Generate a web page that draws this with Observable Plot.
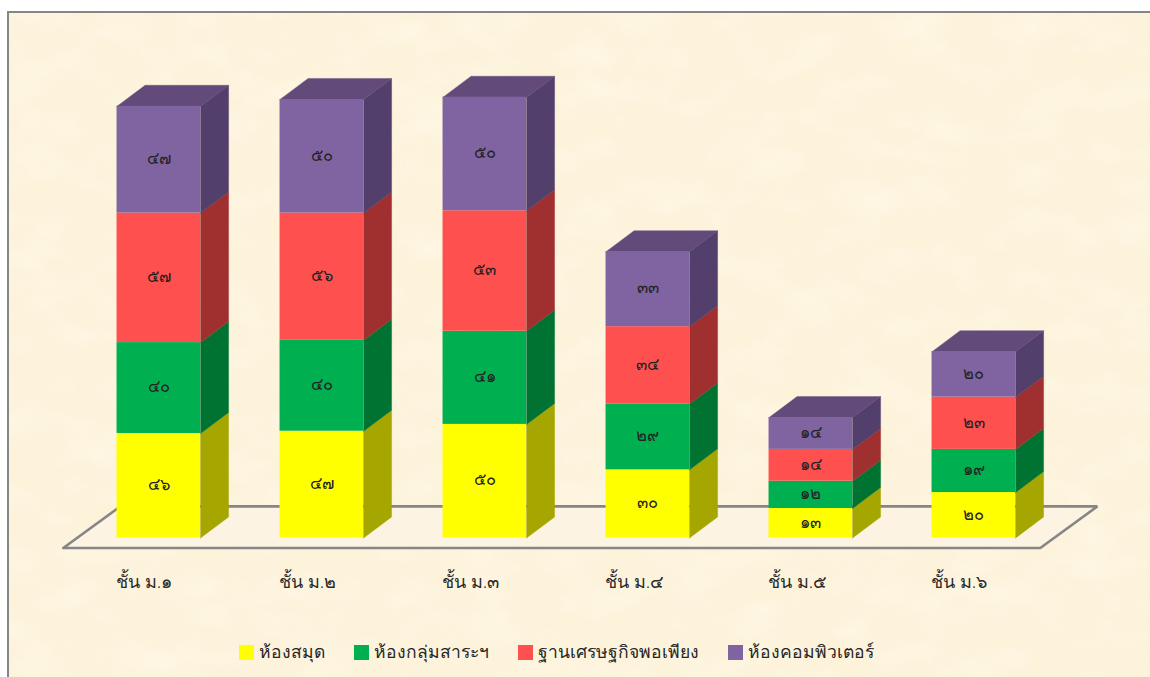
<!DOCTYPE html>
<html lang="th">
<head>
<meta charset="utf-8">
<script src="https://cdn.jsdelivr.net/npm/d3@7"></script>
<script src="https://cdn.jsdelivr.net/npm/@observablehq/plot@0.6"></script>
<style>
  html, body { margin: 0; padding: 0; width: 1150px; height: 677px; overflow: hidden; background: #fff; }
  body { position: relative; font-family: "Noto Sans", "DejaVu Sans", sans-serif; }
  #frame {
    position: absolute; left: 7px; top: 11px; width: 1160px; height: 690px; box-sizing: border-box;
    border: 2.5px solid #868686; background-color: #fdf2da;
    background-image: url("data:image/svg+xml;utf8,<svg xmlns='http://www.w3.org/2000/svg' width='1150' height='677'><filter id='t' x='0' y='0' width='100%' height='100%'><feTurbulence type='fractalNoise' baseFrequency='0.018 0.03' numOctaves='4' seed='7'/><feColorMatrix values='0 0 0 0 1  0 0 0 0 0.97  0 0 0 0 0.86  0.9 0 0 0 -0.32'/></filter><rect width='1150' height='677' filter='url(%23t)'/></svg>");
  }
  #chart { position: absolute; left: 0; top: 0; }
  #chart svg { background: transparent; display: block; }
  #legend { position: absolute; left: 239px; top: 640px; height: 24px; font-size: 17.5px; color: #262626; white-space: nowrap; }
  #legend span.sw { display: inline-block; width: 15px; height: 15px; margin-right: 5px; }
  #legend span.it { display: inline-flex; align-items: center; position: absolute; top: 0; height: 24px; }
</style>
</head>
<body>
<div id="frame"></div>
<div id="chart"></div>
<div id="legend"></div>
<script>
const categories = ["ชั้น ม.๑", "ชั้น ม.๒", "ชั้น ม.๓", "ชั้น ม.๔", "ชั้น ม.๕", "ชั้น ม.๖"];
const seriesNames = ["ห้องสมุด", "ห้องกลุ่มสาระฯ", "ฐานเศรษฐกิจพอเพียง", "ห้องคอมพิวเตอร์"];
const library    = [46, 47, 50, 30, 13, 20];
const learning   = [40, 40, 41, 29, 12, 19];
const sufficiency = [57, 56, 53, 34, 14, 23];
const computer   = [47, 50, 50, 33, 14, 20];
const frontColors = ["#ffff00", "#00b050", "#ff5050", "#8064a2"];
const sideColors  = ["#a6a600", "#007333", "#a03030", "#533f6b"];
const topColor = "#624a7a";
const legendOffsets = [0, 115, 279, 489];

const thai = n => String(n).replace(/\d/g, d => "๐๑๒๓๔๕๖๗๘๙"[d]);
const series = [library, learning, sufficiency, computer];

const halfW = 0.2562, depthX = 0.172, depthY = 9.24;

const fronts = [], sidePts = [], topPts = [], labels = [];
categories.forEach((c, i) => {
  let base = 0;
  series.forEach((s, k) => {
    const v = s[i], y0 = base, y1 = base + v;
    fronts.push({x1: i - halfW, x2: i + halfW, y1: y0, y2: y1, fill: frontColors[k]});
    labels.push({x: i, y: (y0 + y1) / 2, text: thai(v)});
    const id = `s${i}-${k}`, xr = i + halfW;
    for (const [x, y] of [[xr, y0], [xr + depthX, y0 + depthY], [xr + depthX, y1 + depthY], [xr, y1], [xr, y0]])
      sidePts.push({id, x, y, fill: sideColors[k]});
    base = y1;
  });
  const xl = i - halfW, xr = i + halfW;
  for (const [x, y] of [[xl, base], [xl + depthX, base + depthY], [xr + depthX, base + depthY], [xr, base], [xl, base]])
    topPts.push({id: `t${i}`, x, y, fill: topColor});
});

// Floor of the 3D plot box, in data units
const floor = [[-0.586, -4.41], [5.408, -4.41], [5.758, 13.9], [-0.236, 13.9], [-0.586, -4.41]].map(([x, y]) => ({x, y}));

const plot = Plot.plot({
  width: 1150, height: 636,
  marginLeft: 0, marginRight: 0, marginTop: 0, marginBottom: 0,
  style: {background: "transparent", overflow: "visible"},
  x: {domain: [-0.5, 5.5], range: [76.8, 1054.8], axis: null},
  y: {domain: [0, 237], range: [537.5, -1], axis: null},
  color: {type: "identity"},
  marks: [
    Plot.line(floor, {x: "x", y: "y", fill: "#fdf3e2", stroke: "#868686", strokeWidth: 2.6, strokeLinejoin: "miter"}),
    Plot.line(sidePts, {x: "x", y: "y", z: "id", fill: "fill", stroke: "fill", strokeWidth: 0.4}),
    Plot.line(topPts, {x: "x", y: "y", z: "id", fill: "fill", stroke: "fill", strokeWidth: 0.4}),
    Plot.rect(fronts, {x1: "x1", x2: "x2", y1: "y1", y2: "y2", fill: "fill", inset: 0}),
    Plot.text(labels, {x: "x", y: "y", text: "text", fontSize: 16.5, fontWeight: 300, dy: -1, fill: "#222",
      fontFamily: '"Noto Sans", "DejaVu Sans", sans-serif'}),
    Plot.text(categories.map((c, i) => ({c, x: i - halfW})), {x: "x", y: () => -19.6, text: "c", fontSize: 18, fontWeight: 300, textAnchor: "start", dx: -1,
      fill: "#2a2a2a", fontFamily: '"Noto Sans", "DejaVu Sans", sans-serif'})
  ]
});
document.getElementById("chart").append(plot);

const legend = document.getElementById("legend");
seriesNames.forEach((name, i) => {
  const it = document.createElement("span");
  it.className = "it";
  it.style.left = legendOffsets[i] + "px";
  const sw = document.createElement("span");
  sw.className = "sw";
  sw.style.background = frontColors[i];
  it.append(sw, document.createTextNode(name));
  legend.append(it);
});
</script>
</body>
</html>
